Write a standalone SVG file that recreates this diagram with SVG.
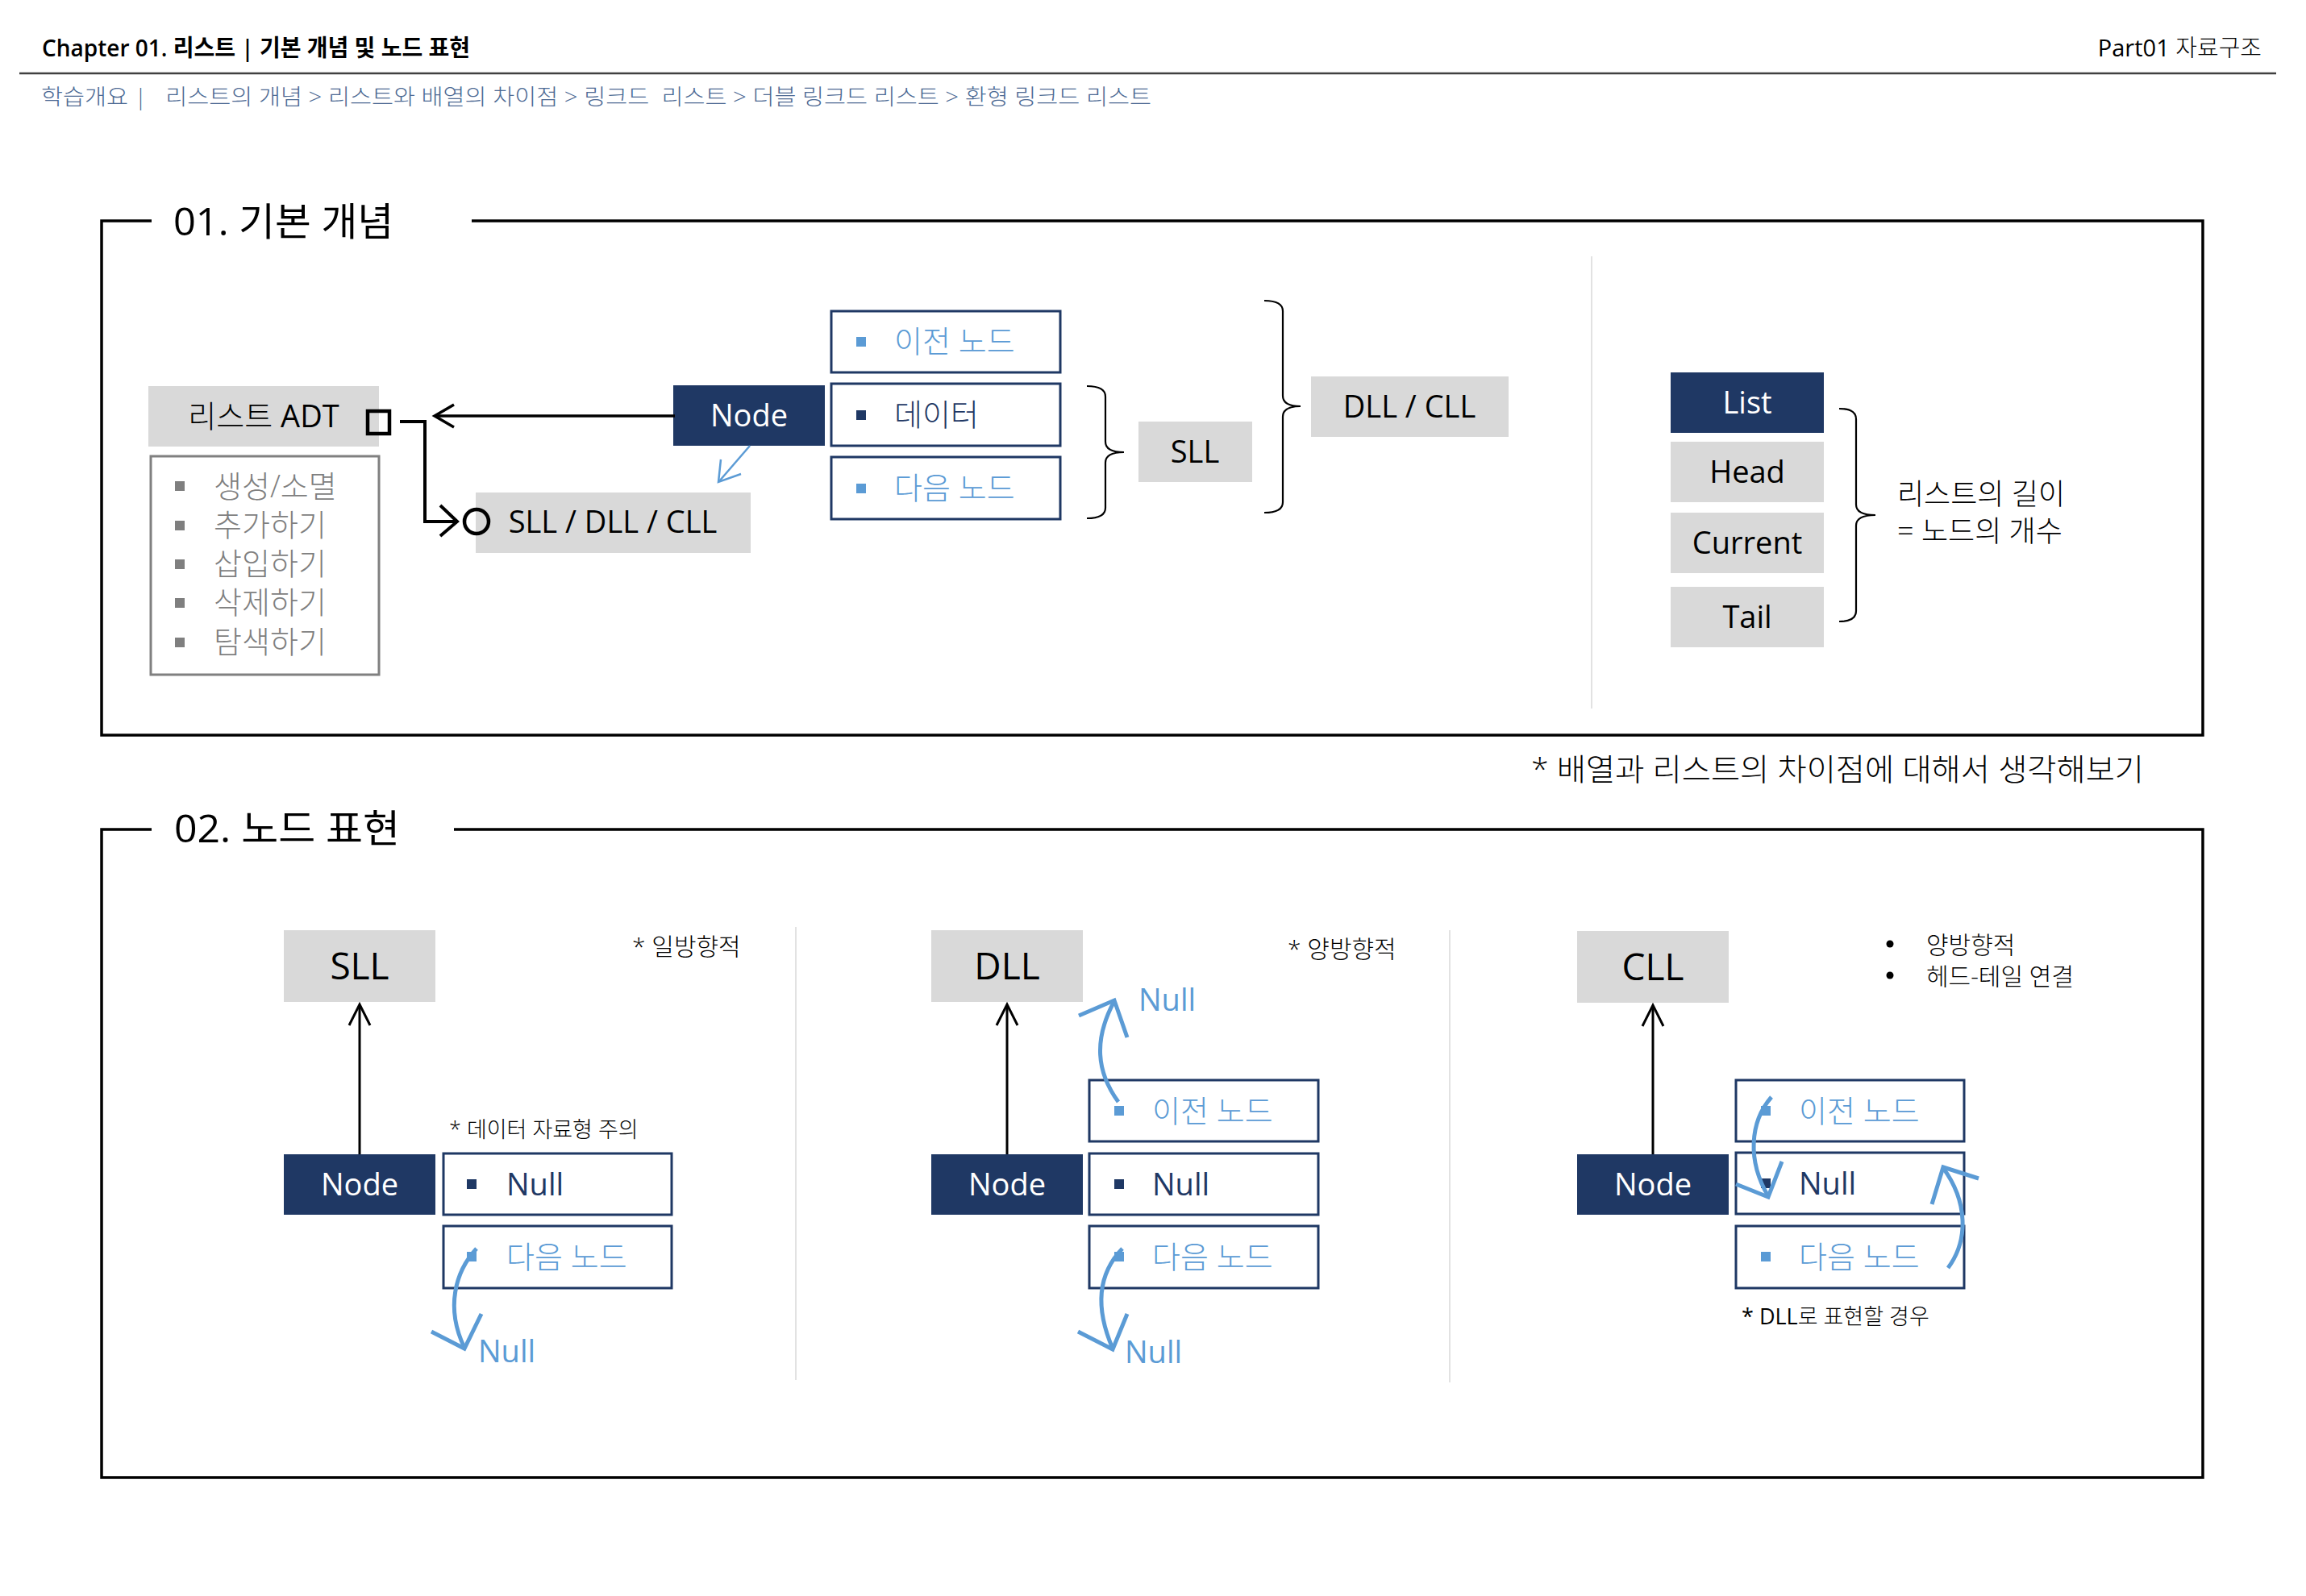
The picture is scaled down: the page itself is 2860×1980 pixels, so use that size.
<svg xmlns="http://www.w3.org/2000/svg" width="2860" height="1980" viewBox="0 0 2860 1980">
<style>
text{font-family:"Open Sans","Noto Sans CJK KR",sans-serif;fill:#000}
.s38{font-size:38px}
.s30{font-size:30px}
.s27{font-size:27px}
.s46{font-size:46px}
.lt{font-weight:300}
.mid{text-anchor:middle}
.gbox{fill:#d9d9d9}
.nbox{fill:#1f3864}
.cell{fill:#fff;stroke:#1f3864;stroke-width:3}
.wt{fill:#fff}
.nv{fill:#1f3864}
.lb{fill:#5b9bd5}
.gy{fill:#7f7f7f}
.frame{fill:none;stroke:#000;stroke-width:3.5}
.blk{fill:none;stroke:#000;stroke-width:3}
.brace{fill:none;stroke:#000;stroke-width:2.2}
.blue{fill:none;stroke:#5b9bd5;stroke-width:5}
.div{stroke:#d9d9d9;stroke-width:1.5}
</style>

<g id="header">
<text x="52" y="70" font-size="29" font-weight="600" textLength="531" lengthAdjust="spacingAndGlyphs">Chapter 01. 리스트 | 기본 개념 및 노드 표현</text>
<text x="2805" y="70" font-size="29" text-anchor="end">Part01 <tspan class="lt">자료구조</tspan></text>
<line x1="24" y1="91" x2="2823" y2="91" stroke="#404040" stroke-width="2.5"/>
<text x="51" y="130" font-size="27" class="lt" style="white-space:pre;fill:#4d6a94" textLength="1377" lengthAdjust="spacingAndGlyphs">학습개요 |   리스트의 개념 &gt; 리스트와 배열의 차이점 &gt; 링크드  리스트 &gt; 더블 링크드 리스트 &gt; 환형 링크드 리스트</text>
</g>

<g id="section1">
<path class="frame" d="M188,274 H126 V912 H2732 V274 H585"/>
<text x="215" y="292" font-size="48" font-weight="500" textLength="273" lengthAdjust="spacingAndGlyphs">01. <tspan font-weight="400">기본 개념</tspan></text>
<line class="div" x1="1974" y1="318" x2="1974" y2="879"/>
<text x="1899" y="968" class="s38 lt" textLength="760" lengthAdjust="spacingAndGlyphs">* 배열과 리스트의 차이점에 대해서 생각해보기</text>
</g>

<g id="list-adt">
<rect class="gbox" x="184" y="479" width="286" height="75"/>
<text class="s38 mid" x="327" y="530" fill="#262626"><tspan class="lt">리스트</tspan> ADT</text>
</g>
<g id="adt-ops">
<rect x="187" y="566" width="283" height="271" fill="#fff" stroke="#808080" stroke-width="3"/>
<rect x="217" y="597" width="12" height="12" fill="#7f7f7f"/>
<rect x="217" y="646" width="12" height="12" fill="#7f7f7f"/>
<rect x="217" y="694" width="12" height="12" fill="#7f7f7f"/>
<rect x="217" y="742" width="12" height="12" fill="#7f7f7f"/>
<rect x="217" y="791" width="12" height="12" fill="#7f7f7f"/>
<text class="s38 gy lt" x="265" y="617">생성/소멸</text>
<text class="s38 gy lt" x="265" y="665">추가하기</text>
<text class="s38 gy lt" x="265" y="713">삽입하기</text>
<text class="s38 gy lt" x="265" y="761">삭제하기</text>
<text class="s38 gy lt" x="265" y="810">탐색하기</text>
</g>
<g id="node1">
<rect class="nbox" x="835" y="478" width="188" height="75"/>
<text class="s38 mid wt" x="929" y="529">Node</text>
</g>
<g id="impl">
<rect class="gbox" x="590" y="611" width="341" height="75"/>
<text class="s38 mid" x="760" y="661">SLL / DLL / CLL</text>
</g>
<g id="cell-prev1">
<rect class="cell" x="1031" y="386" width="284" height="76"/>
<rect class="lb" x="1062" y="418" width="12" height="12"/>
<text class="s38 lb lt" x="1109" y="437">이전 노드</text>
</g>
<g id="cell-data1">
<rect class="cell" x="1031" y="476" width="284" height="77"/>
<rect class="nv" x="1062" y="509" width="12" height="12"/>
<text class="s38 nv lt" x="1109" y="528">데이터</text>
</g>
<g id="cell-next1">
<rect class="cell" x="1031" y="567" width="284" height="77"/>
<rect class="lb" x="1062" y="600" width="12" height="12"/>
<text class="s38 lb lt" x="1109" y="619">다음 노드</text>
</g>
<g id="sll1">
<rect class="gbox" x="1412" y="523" width="141" height="75"/>
<text class="s38 mid" x="1482" y="574">SLL</text>
</g>
<g id="dllcll1">
<rect class="gbox" x="1626" y="467" width="245" height="75"/>
<text class="s38 mid" x="1748" y="518">DLL / CLL</text>
</g>
<g id="list-box">
<rect class="nbox" x="2072" y="462" width="190" height="75"/>
<text class="s38 mid wt" x="2167" y="513">List</text>
</g>
<g id="head-box">
<rect class="gbox" x="2072" y="548" width="190" height="75"/>
<text class="s38 mid" x="2167" y="599">Head</text>
</g>
<g id="current-box">
<rect class="gbox" x="2072" y="636" width="190" height="75"/>
<text class="s38 mid" x="2167" y="687">Current</text>
</g>
<g id="tail-box">
<rect class="gbox" x="2072" y="728" width="190" height="75"/>
<text class="s38 mid" x="2167" y="779">Tail</text>
</g>
<g id="length-note">
<text x="2353" y="626" font-size="36" class="lt">리스트의 길이</text>
<text x="2353" y="672" font-size="36" class="lt">= 노드의 개수</text>
</g>

<g id="section2">
<path class="frame" d="M188,1029 H126 V1833 H2732 V1029 H563"/>
<text x="216" y="1045" font-size="48" font-weight="500" textLength="280" lengthAdjust="spacingAndGlyphs">02. <tspan font-weight="400">노드 표현</tspan></text>
<line class="div" x1="987" y1="1150" x2="987" y2="1712"/>
<line class="div" x1="1798" y1="1154" x2="1798" y2="1715"/>
</g>

<g id="sll2">
<rect class="gbox" x="352" y="1154" width="188" height="89"/>
<text class="s46 mid" x="446" y="1215">SLL</text>
<text class="s30 lt" x="784" y="1185">* 일방향적</text>
<text class="s27 lt" x="557" y="1411">* 데이터 자료형 주의</text>
</g>
<g id="sll2-node">
<rect class="nbox" x="352" y="1432" width="188" height="75"/>
<text class="s38 mid wt" x="446" y="1483">Node</text>
</g>
<g id="sll2-null">
<rect class="cell" x="550" y="1431" width="283" height="76"/>
<rect class="nv" x="579" y="1463" width="12" height="12"/>
<text class="s38 nv" x="628" y="1483">Null</text>
</g>
<g id="sll2-next">
<rect class="cell" x="550" y="1521" width="283" height="77"/>
<rect class="lb" x="579" y="1553" width="12" height="12"/>
<text class="s38 lb lt" x="628" y="1573">다음 노드</text>
</g>
<text class="s38 lb" x="593" y="1690">Null</text>

<g id="dll2">
<rect class="gbox" x="1155" y="1154" width="188" height="89"/>
<text class="s46 mid" x="1249" y="1215">DLL</text>
<text class="s30 lt" x="1597" y="1188">* 양방향적</text>
</g>
<g id="dll2-node">
<rect class="nbox" x="1155" y="1432" width="188" height="75"/>
<text class="s38 mid wt" x="1249" y="1483">Node</text>
</g>
<g id="dll2-prev">
<rect class="cell" x="1351" y="1340" width="284" height="76"/>
<rect class="lb" x="1382" y="1372" width="12" height="12"/>
<text class="s38 lb lt" x="1429" y="1392">이전 노드</text>
</g>
<g id="dll2-null">
<rect class="cell" x="1351" y="1431" width="284" height="76"/>
<rect class="nv" x="1382" y="1463" width="12" height="12"/>
<text class="s38 nv" x="1429" y="1483">Null</text>
</g>
<g id="dll2-next">
<rect class="cell" x="1351" y="1521" width="284" height="77"/>
<rect class="lb" x="1382" y="1553" width="12" height="12"/>
<text class="s38 lb lt" x="1429" y="1573">다음 노드</text>
</g>
<text class="s38 lb" x="1412" y="1254">Null</text>
<text class="s38 lb" x="1395" y="1691">Null</text>

<g id="cll2">
<rect class="gbox" x="1956" y="1155" width="188" height="89"/>
<text class="s46 mid" x="2050" y="1216">CLL</text>
<circle cx="2344" cy="1171" r="4.5"/>
<circle cx="2344" cy="1210" r="4.5"/>
<text class="s30 lt" x="2389" y="1183">양방향적</text>
<text class="s30 lt" x="2389" y="1222">헤드-테일 연결</text>
<text class="s27" x="2160" y="1643">* DLL<tspan class="lt">로 표현할 경우</tspan></text>
</g>
<g id="cll2-node">
<rect class="nbox" x="1956" y="1432" width="188" height="75"/>
<text class="s38 mid wt" x="2050" y="1483">Node</text>
</g>
<g id="cll2-prev">
<rect class="cell" x="2153" y="1340" width="283" height="76"/>
<rect class="lb" x="2184" y="1372" width="12" height="12"/>
<text class="s38 lb lt" x="2231" y="1392">이전 노드</text>
</g>
<g id="cll2-null">
<rect class="cell" x="2153" y="1430" width="283" height="76"/>
<rect class="nv" x="2184" y="1462" width="12" height="12"/>
<text class="s38 nv" x="2231" y="1482">Null</text>
</g>
<g id="cll2-next">
<rect class="cell" x="2153" y="1521" width="283" height="77"/>
<rect class="lb" x="2184" y="1553" width="12" height="12"/>
<text class="s38 lb lt" x="2231" y="1573">다음 노드</text>
</g>

<g id="connectors">
<line x1="837" y1="516" x2="540" y2="516" stroke="#000" stroke-width="3.5"/>
<path d="M563,502 L539,516 L563,530" fill="none" stroke="#000" stroke-width="3.5"/>
<rect x="456" y="510" width="27" height="28" fill="none" stroke="#000" stroke-width="4.5"/>
<path d="M496,523 H527 V647 H566" fill="none" stroke="#000" stroke-width="4"/>
<path d="M546,627 L567,647 L546,665" fill="none" stroke="#000" stroke-width="4"/>
<circle cx="591" cy="647" r="15" fill="none" stroke="#000" stroke-width="4.5"/>
<line x1="930" y1="553" x2="892" y2="597" stroke="#5b9bd5" stroke-width="2.5"/>
<path d="M894,570 L891,598 L919,588" fill="none" stroke="#5b9bd5" stroke-width="2.5"/>
<path class="brace" d="M1348,479 Q1371,479 1371,492 V548 Q1371,561 1394,561 Q1371,561 1371,574 V630 Q1371,643 1348,643"/>
<path class="brace" d="M1568,373 Q1591,373 1591,386 V491 Q1591,504 1613,504 Q1591,504 1591,517 V623 Q1591,636 1568,636"/>
<path class="brace" d="M2281,507 Q2302,507 2302,520 V626 Q2302,639 2326,639 Q2302,639 2302,652 V758 Q2302,771 2281,771"/>
<line class="blk" x1="446" y1="1432" x2="446" y2="1247"/>
<path class="blk" d="M433,1272 L446,1246 L459,1272"/>
<line class="blk" x1="1249" y1="1432" x2="1249" y2="1247"/>
<path class="blk" d="M1236,1272 L1249,1246 L1262,1272"/>
<line class="blk" x1="2050" y1="1432" x2="2050" y2="1248"/>
<path class="blk" d="M2037,1273 L2050,1247 L2063,1273"/>
<path class="blue" d="M591,1549 C565,1577 552,1622 576,1672"/>
<path class="blue" d="M535,1652 L576,1673 L597,1630"/>
<path class="blue" d="M1387,1367 C1360,1330 1356,1290 1382,1242"/>
<path class="blue" d="M1338,1260 L1382,1241 L1398,1287"/>
<path class="blue" d="M1392,1549 C1362,1580 1358,1622 1380,1673"/>
<path class="blue" d="M1337,1652 L1380,1674 L1398,1630"/>
<path class="blue" d="M2197,1361 C2170,1392 2167,1440 2193,1484"/>
<path class="blue" d="M2153,1469 L2193,1485 L2210,1441"/>
<path class="blue" d="M2416,1573 C2442,1538 2440,1490 2410,1449"/>
<path class="blue" d="M2396,1494 L2410,1448 L2454,1462"/>
</g>
</svg>
